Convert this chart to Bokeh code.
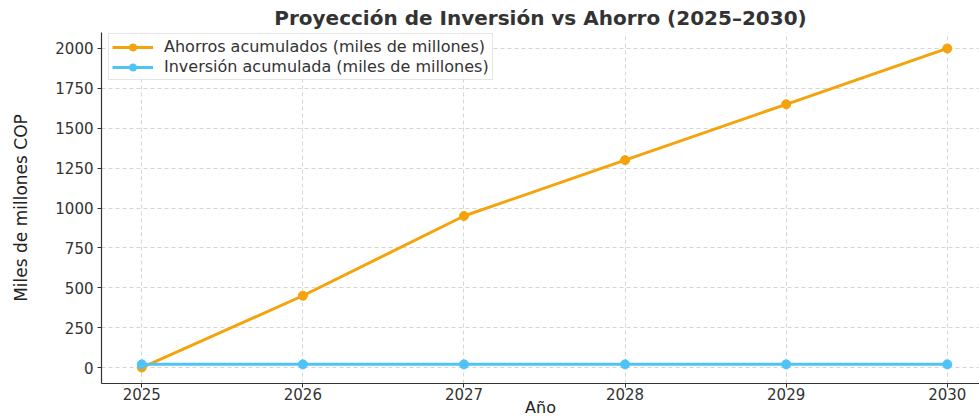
from bokeh.plotting import figure
from bokeh.models import Range1d, FixedTicker, Legend, LegendItem
from bokeh.embed import file_html
from bokeh.resources import INLINE

years = [2025, 2026, 2027, 2028, 2029, 2030]
ahorros = [0, 450, 950, 1300, 1650, 2000]
inversion = [20, 20, 20, 20, 20, 20]
y_ticks = [0, 250, 500, 750, 1000, 1250, 1500, 1750, 2000]

ORANGE = "#F5A30A"
BLUE = "#4FC3F7"
FONT = "DejaVu Sans"

x_start, x_end = 2024.75, 2030.2
p = figure(width=979, height=419, output_backend="svg", toolbar_location=None,
           x_range=Range1d(x_start, x_end), y_range=Range1d(-100, 2100),
           min_border_left=101, min_border_right=0, min_border_bottom=36, min_border_top=0)

p.title.text = "Proyección de Inversión vs Ahorro (2025–2030)"
p.title.align = "center"
p.title.text_font = FONT
p.title.text_font_size = "20px"
p.title.text_font_style = "bold"
p.title.text_color = "#333333"
p.title.standoff = 6

p.outline_line_color = None
p.background_fill_color = "white"

for ax in (p.xaxis[0], p.yaxis[0]):
    ax.axis_line_color = "#333333"
    ax.axis_line_width = 1.2
    ax.major_tick_line_color = "#333333"
    ax.major_tick_out = 4
    ax.major_tick_in = 0
    ax.minor_tick_line_color = None
    ax.major_label_text_font = FONT
    ax.major_label_text_font_size = "15px"
    ax.major_label_text_color = "#333333"
    ax.axis_label_text_font = FONT
    ax.axis_label_text_font_style = "normal"
    ax.axis_label_text_color = "#222222"

p.xaxis.ticker = FixedTicker(ticks=years)
p.yaxis.ticker = FixedTicker(ticks=y_ticks)
p.xaxis.major_label_standoff = 0
p.yaxis.major_label_standoff = 4
p.xaxis.axis_label = "Año"
p.xaxis.axis_label_text_font_size = "16px"
p.xaxis.axis_label_standoff = -5
p.yaxis.axis_label = "Miles de millones COP"
p.yaxis.axis_label_text_font_size = "17px"
p.yaxis.axis_label_standoff = 21

p.xgrid.grid_line_color = "#cccccc"
p.ygrid.grid_line_color = "#cccccc"
p.xgrid.grid_line_dash = "4 3"
p.ygrid.grid_line_dash = "4 3"
p.xgrid.grid_line_alpha = 0.8
p.ygrid.grid_line_alpha = 0.8

l1 = p.line(years, ahorros, line_color=ORANGE, line_width=3)
c1 = p.scatter(years, ahorros, size=9, fill_color=ORANGE, line_color=ORANGE)
l2 = p.line(years, inversion, line_color=BLUE, line_width=3)
c2 = p.scatter(years, inversion, size=9, fill_color=BLUE, line_color=BLUE)

legend = Legend(items=[
    LegendItem(label="Ahorros acumulados (miles de millones)", renderers=[l1, c1]),
    LegendItem(label="Inversión acumulada (miles de millones)", renderers=[l2, c2]),
], location=(7, 303))
legend.margin = 0
legend.padding = 3
legend.spacing = 1
legend.glyph_width = 41
legend.glyph_height = 18
legend.label_standoff = 11
legend.label_text_font = FONT
legend.label_text_font_size = "16px"
legend.label_text_color = "#333333"
legend.border_line_color = "#cccccc"
legend.background_fill_alpha = 0.85
p.add_layout(legend)

open("out.html", "w").write(file_html(p, INLINE))
